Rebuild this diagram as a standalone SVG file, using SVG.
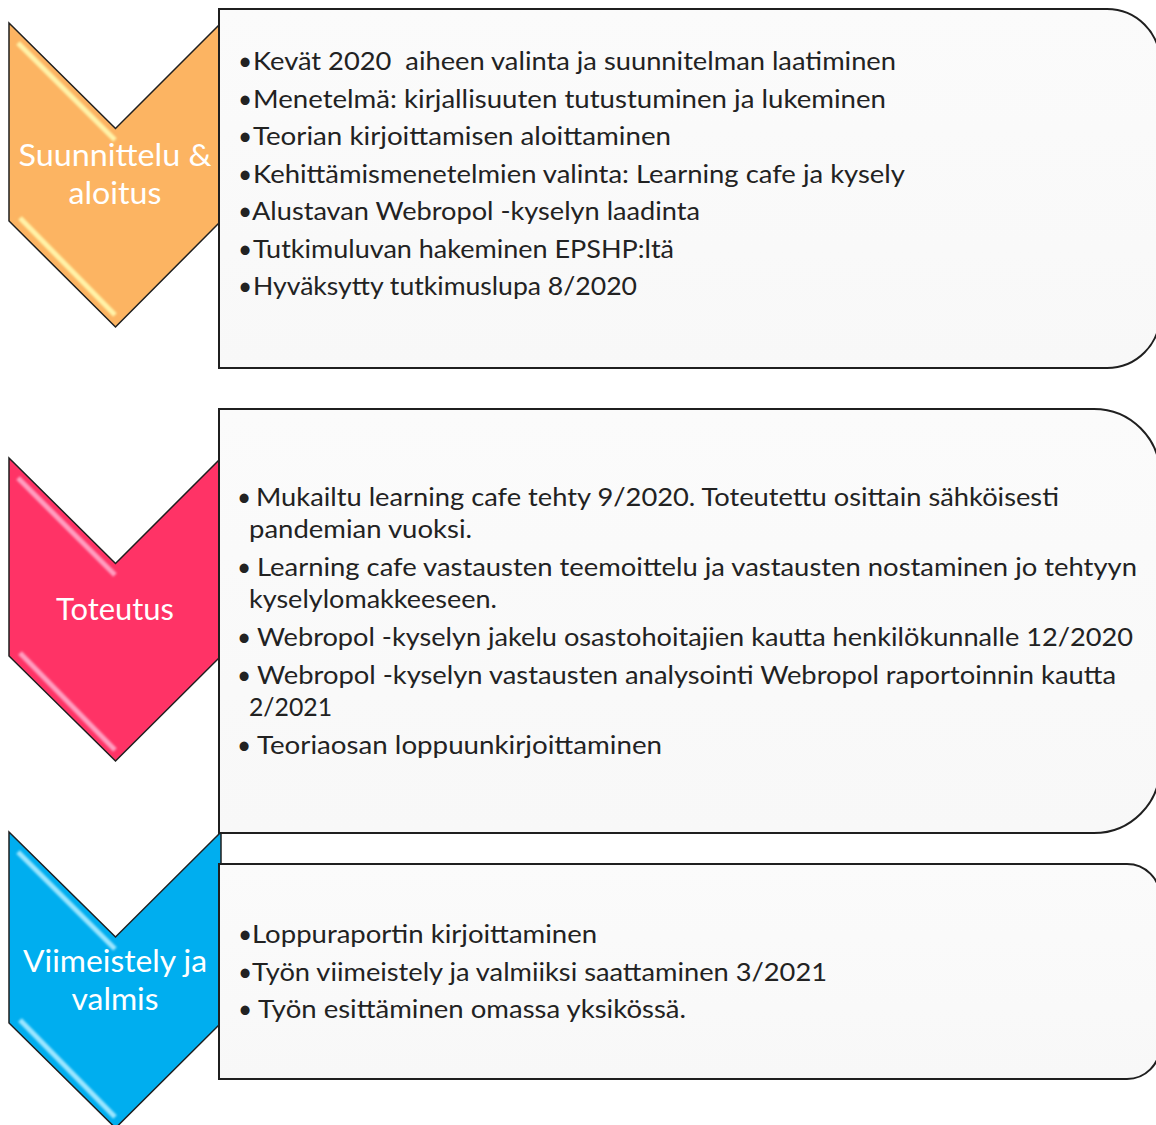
<svg xmlns="http://www.w3.org/2000/svg" width="1156" height="1125" viewBox="0 0 1156 1125">
<defs>
<style>
.box{fill:url(#boxGrad);stroke:#1f1f1f;stroke-width:2}
.chev{stroke:#1f1f1f;stroke-width:1.5;stroke-linejoin:miter}
.label{font-family:Lato,"Open Sans","Liberation Sans",sans-serif;font-size:31.5px;fill:#ffffff;text-anchor:middle}
.body{font-family:Lato,"Open Sans","Liberation Sans",sans-serif;font-size:24.4px;fill:#222222;white-space:pre}
.hl{fill:none;stroke-width:5;stroke-linecap:butt;filter:url(#soft)}
</style>
<linearGradient id="boxGrad" x1="0" y1="0" x2="0" y2="1">
<stop offset="0" stop-color="#fbfbfb"/>
<stop offset="1" stop-color="#f8f8f8"/>
</linearGradient>
<filter id="soft" x="-10%" y="-10%" width="120%" height="120%">
<feGaussianBlur stdDeviation="1"/>
</filter>
</defs>
<rect width="1156" height="1125" fill="#ffffff"/>

<g id="phase1-chevron">
<polygon class="chev" fill="#fcb462" points="9,23 115.5,128.5 221,23 221,221 115.5,327 9,221"/>
<line class="hl" stroke="#fff3a8" x1="18" y1="43" x2="115" y2="140"/>
<line class="hl" stroke="#fff3a8" x1="20" y1="218" x2="115" y2="315"/>
<text class="label" x="115" y="166" textLength="193" lengthAdjust="spacingAndGlyphs">Suunnittelu &amp;</text>
<text class="label" x="115" y="204" textLength="93" lengthAdjust="spacingAndGlyphs">aloitus</text>
</g>

<g id="phase2-chevron">
<polygon class="chev" fill="#ff3366" points="9,458 115.5,563.5 221,458 221,656 115.5,761 9,656"/>
<line class="hl" stroke="#ff9ec0" x1="18" y1="478" x2="115" y2="575"/>
<line class="hl" stroke="#ff9ec0" x1="20" y1="653" x2="115" y2="750"/>
<text class="label" x="115" y="620" textLength="118" lengthAdjust="spacingAndGlyphs">Toteutus</text>
</g>

<g id="phase3-chevron">
<polygon class="chev" fill="#00aeef" points="9,832 115.5,937 221,832 221,1023 115.5,1128 9,1023"/>
<line class="hl" stroke="#9be6ff" x1="18" y1="852" x2="115" y2="949"/>
<line class="hl" stroke="#9be6ff" x1="20" y1="1020" x2="115" y2="1117"/>
<text class="label" x="115" y="972" textLength="184" lengthAdjust="spacingAndGlyphs">Viimeistely ja</text>
<text class="label" x="115" y="1010" textLength="87" lengthAdjust="spacingAndGlyphs">valmis</text>
</g>

<g id="phase1-box">
<path class="box" d="M219,9 H1107 A53,53 0 0 1 1160,62 V315 A53,53 0 0 1 1107,368 H219 Z"/>
<text class="body" y="70"><tspan x="238">•</tspan><tspan x="253" textLength="643" lengthAdjust="spacingAndGlyphs">Kevät 2020  aiheen valinta ja suunnitelman laatiminen</tspan></text>
<text class="body" y="107.5"><tspan x="238">•</tspan><tspan x="253" textLength="633" lengthAdjust="spacingAndGlyphs">Menetelmä: kirjallisuuten tutustuminen ja lukeminen</tspan></text>
<text class="body" y="145"><tspan x="238">•</tspan><tspan x="253" textLength="418" lengthAdjust="spacingAndGlyphs">Teorian kirjoittamisen aloittaminen</tspan></text>
<text class="body" y="182.5"><tspan x="238">•</tspan><tspan x="253" textLength="652" lengthAdjust="spacingAndGlyphs">Kehittämismenetelmien valinta: Learning cafe ja kysely</tspan></text>
<text class="body" y="220"><tspan x="238">•</tspan><tspan x="252" textLength="448" lengthAdjust="spacingAndGlyphs">Alustavan Webropol -kyselyn laadinta</tspan></text>
<text class="body" y="257.5"><tspan x="238">•</tspan><tspan x="253" textLength="421" lengthAdjust="spacingAndGlyphs">Tutkimuluvan hakeminen EPSHP:ltä</tspan></text>
<text class="body" y="295"><tspan x="238">•</tspan><tspan x="253" textLength="384" lengthAdjust="spacingAndGlyphs">Hyväksytty tutkimuslupa 8/2020</tspan></text>
</g>

<g id="phase2-box">
<path class="box" d="M219,409 H1094 A66,66 0 0 1 1160,475 V767 A66,66 0 0 1 1094,833 H219 Z"/>
<text class="body" y="506"><tspan x="237">•</tspan><tspan x="256" textLength="803" lengthAdjust="spacingAndGlyphs">Mukailtu learning cafe tehty 9/2020. Toteutettu osittain sähköisesti</tspan></text>
<text class="body" y="538"><tspan x="249" textLength="223" lengthAdjust="spacingAndGlyphs">pandemian vuoksi.</tspan></text>
<text class="body" y="576"><tspan x="237">•</tspan><tspan x="257" textLength="880" lengthAdjust="spacingAndGlyphs">Learning cafe vastausten teemoittelu ja vastausten nostaminen jo tehtyyn</tspan></text>
<text class="body" y="608"><tspan x="249" textLength="248" lengthAdjust="spacingAndGlyphs">kyselylomakkeeseen.</tspan></text>
<text class="body" y="646"><tspan x="237">•</tspan><tspan x="257" textLength="876" lengthAdjust="spacingAndGlyphs">Webropol -kyselyn jakelu osastohoitajien kautta henkilökunnalle 12/2020</tspan></text>
<text class="body" y="684"><tspan x="237">•</tspan><tspan x="257" textLength="859" lengthAdjust="spacingAndGlyphs">Webropol -kyselyn vastausten analysointi Webropol raportoinnin kautta</tspan></text>
<text class="body" y="716"><tspan x="249" textLength="83" lengthAdjust="spacingAndGlyphs">2/2021</tspan></text>
<text class="body" y="754"><tspan x="237">•</tspan><tspan x="257" textLength="405" lengthAdjust="spacingAndGlyphs">Teoriaosan loppuunkirjoittaminen</tspan></text>
</g>

<g id="phase3-box">
<path class="box" d="M219,864 H1127 A33,33 0 0 1 1160,897 V1046 A33,33 0 0 1 1127,1079 H219 Z"/>
<text class="body" y="943"><tspan x="238">•</tspan><tspan x="252" textLength="345" lengthAdjust="spacingAndGlyphs">Loppuraportin kirjoittaminen</tspan></text>
<text class="body" y="980.5"><tspan x="238">•</tspan><tspan x="252" textLength="575" lengthAdjust="spacingAndGlyphs">Työn viimeistely ja valmiiksi saattaminen 3/2021</tspan></text>
<text class="body" y="1018"><tspan x="238">•</tspan><tspan x="258" textLength="428" lengthAdjust="spacingAndGlyphs">Työn esittäminen omassa yksikössä.</tspan></text>
</g>

<g id="connectors"/>
</svg>
